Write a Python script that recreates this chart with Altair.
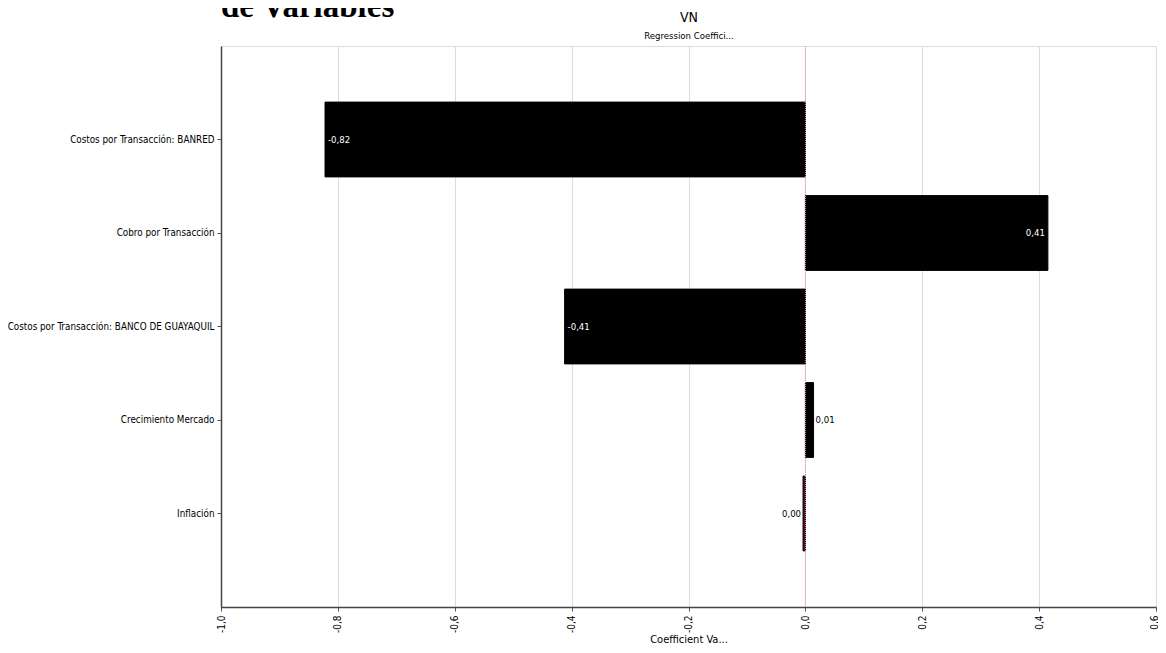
import altair as alt
import pandas as pd

categories = [
    "Costos por Transacción: BANRED",
    "Cobro por Transacción",
    "Costos por Transacción: BANCO DE GUAYAQUIL",
    "Crecimiento Mercado",
    "Inflación",
]
values = [-0.822, 0.415, -0.412, 0.014, -0.004]
bar_colors = ["#000000", "#000000", "#000000", "#000000", "#5a0a1e"]
label_colors = ["#ffffff", "#ffffff", "#ffffff", "#000000", "#000000"]
label_side = ["inner_left", "inner_right", "inner_left", "outer_right", "outer_left"]
x_ticks = [-1.0, -0.8, -0.6, -0.4, -0.2, 0.0, 0.2, 0.4, 0.6]

df = pd.DataFrame({
    "cat": categories,
    "v": values,
    "bc": bar_colors,
    "lc": label_colors,
    "side": label_side,
})

FONT = "DejaVu Sans Condensed"
W, H = 935, 561

y_enc = alt.Y(
    "cat:N",
    sort=categories,
    scale=alt.Scale(paddingInner=0.2, paddingOuter=0.6),
    axis=alt.Axis(
        title=None, labelFont=FONT, labelFontSize=9.8, labelColor="#000",
        labelPadding=3, tickSize=4, tickColor="#555", domainColor="#444",
        domainWidth=1.5, gridColor="#dcdcdc", bandPosition=0.5, labelLimit=400,
    ),
)

x_scale = alt.Scale(domain=[-1.0, 0.6], nice=False, zero=False)

bars = alt.Chart(df).mark_bar(stroke="#000", strokeWidth=1).encode(
    x=alt.X(
        "v:Q", scale=x_scale,
        axis=alt.Axis(
            title="Coefficient Va...", titleFont=FONT, titleFontSize=11,
            titleFontWeight="normal", titleColor="#000", titlePadding=1,
            labelFont=FONT, labelFontSize=10, labelColor="#000", labelAngle=270,
            labelAlign="right", labelBaseline="middle", labelPadding=4,
            labelOffset={"condition": {"test": "datum.value >= 0.59", "value": -2}, "value": 0},
            values=x_ticks,
            labelExpr="replace(replace(format(datum.value, '.1f'), '.', ','), '\u2212', '-')",
            tickSize=4, tickColor="#555", domainColor="#444", domainWidth=1.5,
            gridColor="#dcdcdc", labelFlush=False,
        ),
    ),
    x2=alt.datum(0),
    y=y_enc,
    fill=alt.Fill("bc:N", scale=None),
)

zero_rule = alt.Chart(pd.DataFrame({"z": [0.0]})).mark_rule(
    color="#e890a8", strokeDash=[1, 1], strokeWidth=1
).encode(x=alt.X("z:Q", scale=x_scale))

def labels(side, align, dx):
    return alt.Chart(df).transform_filter(
        alt.datum.side == side
    ).transform_calculate(
        lab="replace(replace(format(datum.v, '.2f'), '.', ','), '\u2212', '-')"
    ).mark_text(align=align, baseline="middle", dx=dx, font=FONT, fontSize=9.5).encode(
        x=alt.X("v:Q", scale=x_scale),
        y=alt.Y("cat:N", sort=categories),
        text="lab:N",
        color=alt.Color("lc:N", scale=None),
    )

lab_layers = [
    labels("inner_left", "left", 3),
    labels("inner_right", "right", -3),
    labels("outer_right", "left", 2),
    labels("outer_left", "right", -2),
]

big_title = alt.Chart(pd.DataFrame({"t": ["de Variables"]})).mark_text(
    align="left", baseline="alphabetic", font="Liberation Serif", fontSize=33,
    fontWeight="bold", color="#000"
).encode(x=alt.value(0), y=alt.value(-29), text="t:N")

top_title = alt.Chart(pd.DataFrame({"t": ["VN"]})).mark_text(
    align="center", baseline="alphabetic", font=FONT, fontSize=14, color="#000"
).encode(x=alt.value(W / 2 + 0.5), y=alt.value(-24), text="t:N")

sub_title = alt.Chart(pd.DataFrame({"t": ["Regression Coeffici..."]})).mark_text(
    align="center", baseline="alphabetic", font=FONT, fontSize=9.5, color="#000"
).encode(x=alt.value(W / 2 + 0.5), y=alt.value(-7), text="t:N")

chart = alt.layer(
    bars, zero_rule, *lab_layers, big_title, top_title, sub_title
).properties(
    width=W, height=H,
    padding={"left": 213, "top": 38, "right": 2, "bottom": 44},
    autosize=alt.AutoSizeParams(type="none"),
).configure_view(
    fill="#f4f4f4", stroke="#dddddd", strokeWidth=1,
).configure(background="white")

chart.save("out.html", embed_options={"renderer": "svg", "actions": False})
